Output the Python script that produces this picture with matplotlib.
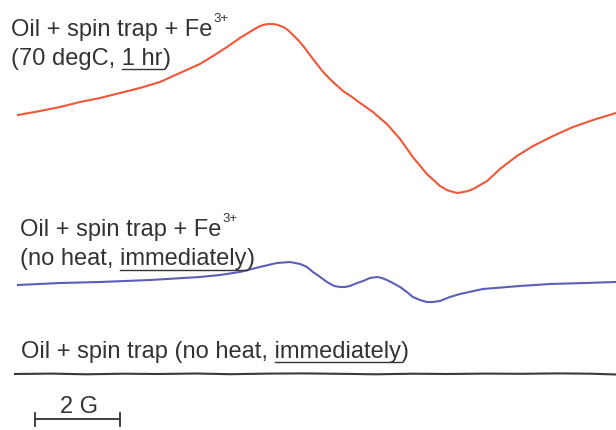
import matplotlib
matplotlib.use("Agg")
import matplotlib.pyplot as plt
from matplotlib.transforms import IdentityTransform

W, H = 616, 431

# field in G, signal in arbitrary units
red_field = [0.00, 0.52, 0.99, 1.46, 1.93, 2.40, 2.87, 3.34, 3.81, 4.28,
             4.59, 4.92, 5.22, 5.53, 5.65, 5.76, 5.88, 6.00, 6.12, 6.24,
             6.35, 6.47, 6.59, 6.71, 6.94, 7.18, 7.41, 7.65, 7.86, 8.05,
             8.35, 8.68, 8.99, 9.29, 9.62, 9.93, 10.09, 10.24, 10.35, 10.47,
             10.59, 10.71, 11.04, 11.34, 11.74, 12.12, 12.59, 13.06, 13.53, 14.07]
red_signal = [-6, -2, 2, 7, 11, 16, 21, 27, 36, 45,
              53, 62, 71, 79, 82, 84, 85, 85, 84, 82,
              79, 74, 69, 63, 50, 37, 27, 18, 12, 6,
              -3, -15, -30, -48, -65, -77, -81, -83, -84, -83,
              -82, -80, -72, -60, -47, -37, -27, -18, -11, -4]

blue_field = [0.00, 0.99, 1.93, 3.11, 4.28, 4.75, 5.22, 5.69, 6.09, 6.40,
              6.64, 6.80, 6.94, 7.11, 7.27, 7.44, 7.58, 7.69, 7.81, 7.98,
              8.12, 8.28, 8.45, 8.56, 8.68, 8.82, 8.99, 9.15, 9.29, 9.46,
              9.62, 9.76, 9.93, 10.16, 10.40, 10.94, 11.81, 12.52, 13.34, 14.07]
blue_signal = [-1, 1, 2, 4, 7, 9, 12, 17, 21, 22,
               20, 17, 12, 7, 2, -2, -3, -3, -2, 1,
               3, 6, 7, 6, 4, 1, -3, -8, -13, -16,
               -18, -18, -17, -13, -10, -5, -2, 0, 1, 2]

black_field = [-0.07, 0.8, 1.6, 2.5, 3.3, 4.2, 5.0, 5.9, 6.7, 7.6, 8.4, 9.3, 10.1,
               11.0, 11.8, 12.7, 13.5, 14.07]
black_signal = [0, 0.4, -0.3, 0.3, 0, 0.5, -0.2, 0.4, 0.6, 0.2, -0.3, 0.3, 0,
                0.4, 0.2, 0.6, 0.3, -0.5]

scale_bar = [0.4, 2.4]  # 2 G

labels = [
    ("Oil + spin trap + Fe", "(70 degC, ", "1 hr", ")"),
    ("Oil + spin trap + Fe", "(no heat, ", "immediately", ")"),
    (None, "Oil + spin trap (no heat, ", "immediately", ")"),
]

plt.rcParams['font.family'] = ['Liberation Sans', 'DejaVu Sans']

fig = plt.figure(figsize=(W / 100, H / 100), dpi=100)
ax = fig.add_axes([0, 0, 1, 1])
px_per_g = 42.5
ax.set_xlim(-18 / px_per_g, (W - 18) / px_per_g)
ax.set_ylim(0, H)
ax.axis('off')

ax.plot(red_field, [321 + s for s in red_signal], color='#ee5737', lw=1.5)
ax.plot(blue_field, [146 + s for s in blue_signal], color='#5b5fb8', lw=1.5)
ax.plot(black_field, [56 + s for s in black_signal], color='#3a3a3a', lw=1.5)

# scale bar
ax.plot(scale_bar, [11, 11], color='#333333', lw=1.3)
for xb in scale_bar:
    ax.plot([xb, xb], [4, 17], color='#333333', lw=1.3)

tc = '#333333'
fs = 17
ident = IdentityTransform()
renderer = fig.canvas.get_renderer()


def put(x, y, s, size=fs):
    return ax.text(x, H - y, s, transform=ident, fontsize=size, color=tc,
                   va='baseline', ha='left')


def label_block(x, y1, y2, lab, ul_off):
    top, pre, under, post = lab
    if top is not None:
        t_top = put(x, y1, top)
        bb = t_top.get_window_extent(renderer)
        put(bb.x1 + 1, y1 - 14, "3+", size=9.5)
    t_full = put(x, y2, pre + under)
    x1 = t_full.get_window_extent(renderer).x1
    t_u = put(0, 0, under)
    w_u = t_u.get_window_extent(renderer).width
    t_u.remove()
    ax.plot([x1 - w_u, x1], [H - y2 - ul_off] * 2, transform=ident, color=tc, lw=1.0)
    put(x1, y2, post)


label_block(11, 36, 65, labels[0], 5)
label_block(20, 236, 265, labels[1], 6)
label_block(21, None, 358, labels[2], 5)

ax.text(79, H - 413, "2 G", transform=ident, fontsize=fs, color=tc,
        ha='center', va='baseline')

fig.savefig('out.png', dpi=100)
